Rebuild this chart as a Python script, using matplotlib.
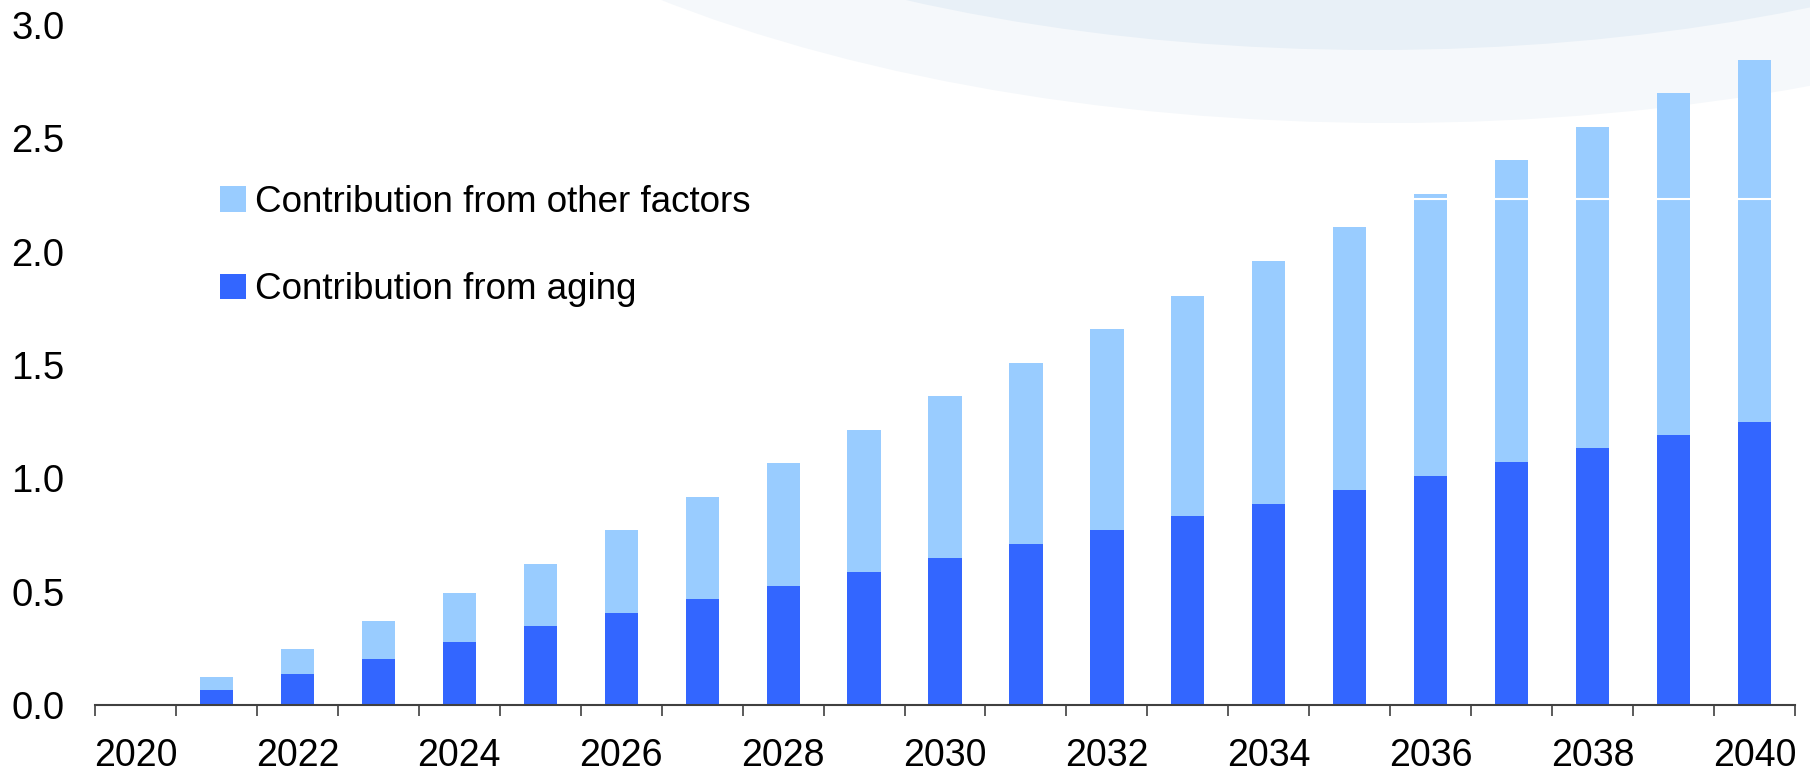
import numpy as np
import matplotlib
matplotlib.use('Agg')
import matplotlib.pyplot as plt
from matplotlib.patches import Ellipse, Patch

plt.rcParams['font.family'] = ['Liberation Sans', 'DejaVu Sans']

# data
years = list(range(2020, 2041))
aging = [0.0, 0.066, 0.138, 0.204, 0.276, 0.347, 0.408, 0.469, 0.526, 0.587, 0.648,
         0.709, 0.770, 0.832, 0.888, 0.949, 1.010, 1.071, 1.133, 1.189, 1.250]
other = [0.0, 0.056, 0.107, 0.168, 0.219, 0.275, 0.362, 0.449, 0.540, 0.627, 0.714,
         0.801, 0.888, 0.974, 1.071, 1.158, 1.245, 1.332, 1.418, 1.510, 1.597]
label_aging = 'Contribution from aging'
label_other = 'Contribution from other factors'

DARK = '#3366ff'
LIGHT = '#99ccff'

W, H = 1810, 776
fig = plt.figure(figsize=(W / 100, H / 100), dpi=100, facecolor='white')

# background swoosh at top right (decoration, in pixel coords)
fig.patches.append(Ellipse((1390, H - 123 + 490), 2200, 980, transform=None,
                           facecolor='#f5f8fb', edgecolor='none', zorder=0))
fig.patches.append(Ellipse((1375, H - 50 + 427), 2000, 854, transform=None,
                           facecolor='#e8f0f7', edgecolor='none', zorder=0))

ax = fig.add_axes([95 / W, 1 - 705 / H, (1795 - 95) / W, (705 - 25) / H])
ax.set_zorder(2)
ax.patch.set_alpha(0)

x = np.array(years)
ax.bar(x, aging, width=0.41, color=DARK, zorder=2)
ax.bar(x, other, width=0.41, bottom=aging, color=LIGHT, zorder=2)
# thin white line left by the background on the tallest bars
ax.axhline(2.232, color='white', lw=1.5, zorder=3)

ax.set_xlim(years[0] - 0.5, years[-1] + 0.5)
ax.set_ylim(0, 3.0)

for s in ['top', 'right', 'left']:
    ax.spines[s].set_visible(False)
ax.spines['bottom'].set_color('#404040')
ax.spines['bottom'].set_linewidth(1.5)
ax.spines['bottom'].set_zorder(4)

# ticks at category boundaries, labels on even years
ax.set_xticks(np.arange(years[0] - 0.5, years[-1] + 1, 1))
ax.set_xticklabels([])
ax.tick_params(axis='x', which='major', direction='out', length=8, width=1.2, color='#404040')
ax.set_xticks(years[::2], minor=True)
ax.set_xticklabels([str(y) for y in years[::2]], minor=True)
ax.tick_params(axis='x', which='minor', length=0, pad=24, labelsize=27)

ax.set_yticks(np.arange(0, 3.01, 0.5))
ax.set_yticklabels([f'{v:.1f}' for v in np.arange(0, 3.01, 0.5)])
ax.tick_params(axis='y', length=0, pad=22, labelsize=27.5)

handles = [Patch(facecolor=LIGHT, edgecolor='none'), Patch(facecolor=DARK, edgecolor='none')]
leg = fig.legend(handles, [label_other, label_aging], loc='upper left',
                 bbox_to_anchor=(220 / W, 1 - 185 / H), frameon=False, fontsize=26.5,
                 handlelength=0.7, handleheight=0.7, handletextpad=0.25,
                 labelspacing=1.42, borderpad=0, borderaxespad=0)
leg.set_zorder(5)

fig.savefig('out.png', dpi=100, facecolor='white')
plt.close(fig)
